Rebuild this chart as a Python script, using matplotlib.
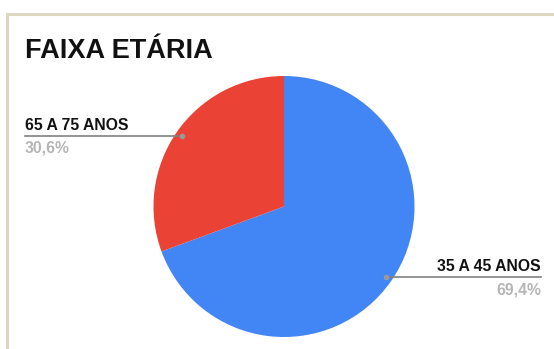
import numpy as np
import matplotlib
matplotlib.use("Agg")
import matplotlib.pyplot as plt
from matplotlib.lines import Line2D

title = "FAIXA ETÁRIA"
categories = ["35 A 45 ANOS", "65 A 75 ANOS"]
values = [69.4, 30.6]
pct_labels = ["69,4%", "30,6%"]
colors = ["#4285F4", "#EA4335"]

W, H = 554, 349
fig = plt.figure(figsize=(W / 100, H / 100), dpi=100)
fig.patch.set_facecolor("white")

# overlay axes in pixel coords (y down)
ov = fig.add_axes([0, 0, 1, 1], zorder=3)
ov.set_xlim(0, W)
ov.set_ylim(H, 0)
ov.axis("off")
ov.patch.set_alpha(0)

# frame lines
border = "#dcd7c0"
ov.add_line(Line2D([7, W], [14, 14], color=border, lw=2.2))
ov.add_line(Line2D([7, 7], [14, H], color=border, lw=2.2))

# pie axes
cx, cy, r = 284, 206.5, 130.5
ax = fig.add_axes([(cx - r) / W, (H - cy - r) / H, 2 * r / W, 2 * r / H], zorder=2)
wedges, _ = ax.pie(values, colors=colors, startangle=90, counterclock=False,
                   radius=1.0, wedgeprops=dict(linewidth=0))
ax.set_xlim(-1, 1)
ax.set_ylim(-1, 1)
ax.set_aspect("equal")
ax.axis("off")

fig.text(25 / W, 1 - 58 / H, title, fontsize=19.5, fontweight="bold",
         family="Liberation Sans", color="#111111", va="baseline", ha="left")

lab_font = ["Liberation Sans", "DejaVu Sans"]
fig.canvas.draw()
for i, w in enumerate(wedges):
    mid = np.deg2rad((w.theta1 + w.theta2) / 2)
    px, py = ax.transData.transform((0.95 * np.cos(mid), 0.95 * np.sin(mid)))
    dx, dy = ov.transData.inverted().transform((px, py))
    if np.cos(mid) < 0:
        x_end = 25
        ha = "left"
    else:
        x_end = 541
        ha = "right"
    ov.add_line(Line2D([dx, x_end], [dy, dy], color="#808080", lw=1.2))
    ov.plot([dx], [dy], "o", ms=4, color="#9a9a9a", mec="none")
    ov.text(x_end, dy - 6, categories[i], fontsize=11.3, fontweight="bold",
            family=lab_font, color="#111111", ha=ha, va="baseline")
    ov.text(x_end, dy + 17, pct_labels[i], fontsize=11.3, fontweight="bold",
            family=lab_font, color="#b5b5b5", ha=ha, va="baseline")

fig.savefig("out.png", dpi=100, facecolor="white")
